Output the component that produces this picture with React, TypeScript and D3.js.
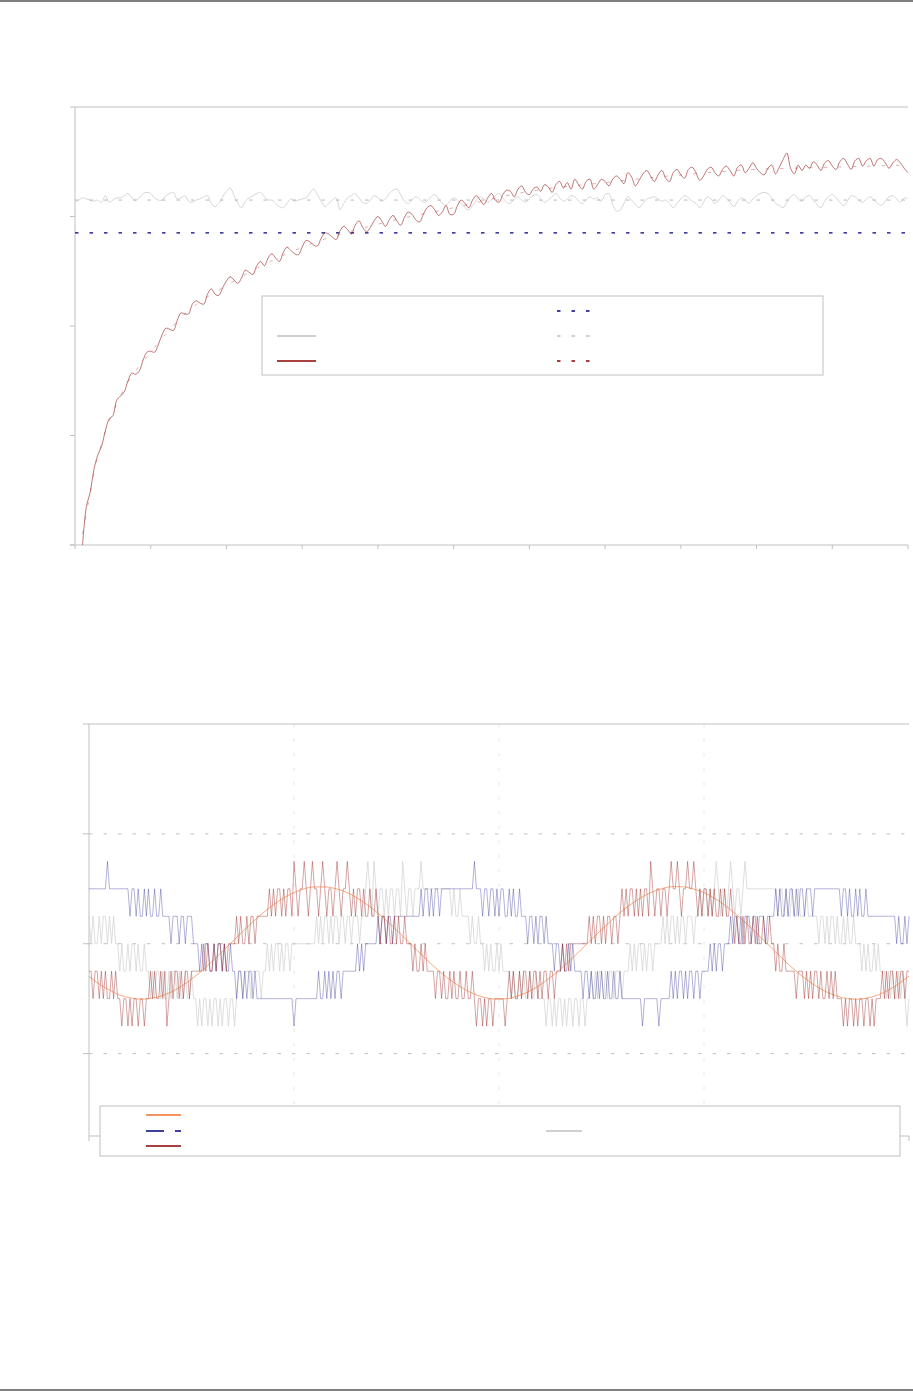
import React from 'react';
import * as d3 from 'd3';

// ---- upper chart: slow rise against a flat reference, sampled every 5 units
const RISE_START = 10;
const RISE_STEP = 5;
const riseValues = [
  0.00, 0.35, 0.48, 0.69, 0.82, 0.90, 1.04, 1.15, 1.18, 1.32,
  1.36, 1.40, 1.50, 1.57, 1.56, 1.59, 1.69, 1.76, 1.77, 1.76,
  1.83, 1.92, 1.98, 1.97, 1.96, 2.05, 2.12, 2.11, 2.11, 2.20,
  2.23, 2.21, 2.20, 2.29, 2.34, 2.29, 2.28, 2.35, 2.41, 2.45,
  2.42, 2.39, 2.44, 2.51, 2.49, 2.47, 2.55, 2.59, 2.55, 2.62,
  2.66, 2.62, 2.59, 2.67, 2.72, 2.69, 2.66, 2.65, 2.72, 2.78,
  2.77, 2.74, 2.73, 2.80, 2.85, 2.84, 2.81, 2.79, 2.87, 2.91,
  2.88, 2.84, 2.92, 2.96, 2.90, 2.86, 2.90, 2.96, 3.00, 2.96,
  2.91, 2.97, 3.01, 2.96, 2.92, 2.99, 3.04, 3.02, 2.97, 2.95,
  3.02, 3.08, 3.10, 3.06, 3.01, 3.04, 3.10, 3.02, 3.02, 3.10,
  3.15, 3.12, 3.08, 3.15, 3.19, 3.15, 3.11, 3.17, 3.21, 3.15,
  3.13, 3.20, 3.24, 3.23, 3.18, 3.25, 3.28, 3.22, 3.20, 3.25,
  3.27, 3.23, 3.29, 3.27, 3.22, 3.29, 3.32, 3.26, 3.31, 3.25,
  3.34, 3.29, 3.25, 3.32, 3.34, 3.25, 3.29, 3.34, 3.32, 3.28,
  3.34, 3.37, 3.34, 3.30, 3.40, 3.36, 3.28, 3.33, 3.39, 3.42,
  3.37, 3.32, 3.38, 3.42, 3.35, 3.32, 3.40, 3.43, 3.38, 3.35,
  3.43, 3.45, 3.40, 3.33, 3.37, 3.43, 3.45, 3.40, 3.37, 3.43,
  3.46, 3.42, 3.37, 3.45, 3.47, 3.40, 3.44, 3.49, 3.44, 3.40,
  3.38, 3.44, 3.47, 3.39, 3.45, 3.52, 3.58, 3.44, 3.39, 3.47,
  3.42, 3.47, 3.44, 3.50, 3.47, 3.42, 3.49, 3.51, 3.46, 3.43,
  3.50, 3.53, 3.48, 3.43, 3.51, 3.53, 3.46, 3.51, 3.53, 3.46,
  3.52, 3.53, 3.49, 3.44, 3.49, 3.52, 3.49, 3.44, 3.40,
];

const FLAT_START = 0;
const FLAT_STEP = 5;
const flatValues = [
  3.13, 3.15, 3.17, 3.16, 3.15, 3.14, 3.15, 3.13, 3.19, 3.13,
  3.15, 3.17, 3.17, 3.19, 3.21, 3.17, 3.15, 3.17, 3.21, 3.22,
  3.21, 3.17, 3.15, 3.15, 3.19, 3.21, 3.22, 3.16, 3.17, 3.19,
  3.14, 3.13, 3.15, 3.16, 3.18, 3.19, 3.12, 3.09, 3.12, 3.18,
  3.23, 3.26, 3.19, 3.12, 3.08, 3.14, 3.17, 3.19, 3.21, 3.22,
  3.18, 3.15, 3.15, 3.12, 3.09, 3.08, 3.12, 3.16, 3.14, 3.15,
  3.16, 3.17, 3.21, 3.25, 3.20, 3.14, 3.09, 3.12, 3.15, 3.17,
  3.06, 3.12, 3.17,
  3.19, 3.21, 3.17, 3.13, 3.12, 3.15, 3.19, 3.17, 3.14, 3.16,
  3.21, 3.24, 3.25, 3.20, 3.14, 3.12, 3.15, 3.18, 3.16, 3.13,
  3.14, 3.18, 3.20, 3.16, 3.12, 3.10, 3.14, 3.17, 3.15, 3.12,
  3.08, 3.06, 3.10, 3.15, 3.18, 3.16, 3.13, 3.15, 3.19, 3.21,
  3.17, 3.13, 3.12, 3.16, 3.18, 3.15, 3.13, 3.16,
  3.19, 3.20, 3.16, 3.13, 3.15, 3.18, 3.21, 3.17, 3.14, 3.16,
  3.19, 3.18, 3.14, 3.12, 3.15, 3.18, 3.16, 3.17, 3.14, 3.20,
  3.21, 3.11, 3.05, 3.06, 3.12, 3.18, 3.15, 3.11, 3.08, 3.12,
  3.16, 3.17, 3.18, 3.16, 3.14, 3.15, 3.12, 3.08, 3.12, 3.16,
  3.19, 3.17, 3.14, 3.12, 3.08, 3.13, 3.18, 3.16, 3.12, 3.15,
  3.19, 3.17, 3.13, 3.09, 3.14, 3.17, 3.15, 3.12, 3.16, 3.19,
  3.21, 3.22, 3.21, 3.17, 3.12, 3.10, 3.08, 3.13, 3.18, 3.20,
  3.16, 3.14, 3.18, 3.19, 3.15, 3.11, 3.08, 3.14, 3.18, 3.20,
  3.17, 3.13, 3.10, 3.14, 3.19, 3.18, 3.15, 3.13, 3.16, 3.18,
  3.15, 3.12, 3.10, 3.14, 3.18, 3.19, 3.16, 3.13, 3.17, 3.16,
];

const fitX = [10, 30, 60, 100, 150, 200, 300, 400, 500, 600, 700, 800, 900, 1000, 1100];
const fitValues = [0.1, 0.8, 1.36, 1.76, 2.14, 2.37, 2.72, 2.93, 3.08, 3.23, 3.31, 3.38, 3.43, 3.45, 3.47];
const flatMean = 3.15;
const refLevel = 2.85;

const topXTicks = d3.range(0, 1101, 100);
const topYTicks = [0, 1, 2, 3, 4];

// ---- lower chart: three quantised phases and the reference sine
const SAMPLE_STEP = 0.1;
const phaseRed = [
  -1, -1, -2, -1, -1, -2, -1, -2, -1, -2, -2, -1, -2, -1, -2,
  -2, -3, -2, -2, -3, -2, -3, -2, -2, -3, -2, -2, -3, -2,
  -2, -1, -2, -1, -2, -2, -1, -2, -1, -3, -2, -1, -2, -1, -1, -2, -1, -2, -1, -1, -2, -1, -1,
  -1, -1, -1, -1,
  0, -1, 0, -1, -1, 0, -1, 0, 0, -1, 0, -1,
  0, 0, 0, 0,
  1, 0, 1, 0, 0, 1, 0, 1, 1, 0, 1, 1,
  1, 1, 1, 1,
  2, 1, 2, 1, 2, 2, 1, 2, 1, 2, 2, 1,
  3, 2, 1, 2, 2, 3, 2, 1, 2, 3, 2, 2, 1, 2, 3, 2, 1, 2, 2, 1, 2, 3, 2, 1, 2, 2, 3, 2,
  1, 2, 1, 2, 2, 1, 2, 1, 1, 2, 1, 1, 2,
  1, 0, 1, 1, 0, 1, 0, 0, 1, 0, 1, 0, 0, 1, 0, 0,
  0, -1, 0, -1, -1, 0, -1, 0, -1, -1, -1,
  -1, -2, -1, -1, -2, -1, -2, -2, -1, -2, -1, -2, -2, -1, -2, -2, -1, -2, -2, -1,
  -2, -3, -2, -2, -3, -2, -3, -2, -2, -3,
  -2, -2, -2, -2, -2, -3,
  -2, -1, -2, -1, -2, -2, -1, -2, -1, -1, -2, -1, -2, -1, -1, -2, -1, -2, -1, -1, -2, -1, -1, -2, -1, -1, -1,
  0, -1, 0, -1, 0, 0,
  0, 0, 0, 0, 0, 0, 0, 1,
  0, 1, 0, 1, 1, 0, 1, 0, 1, 1, 0, 1, 1, 0, 1,
  2, 1, 2, 1, 2, 2, 1, 2, 1, 2, 1, 2, 2, 1,
  3, 2, 1, 2, 2, 1, 2, 2, 1, 2, 3, 2, 2, 3, 2, 1, 2, 2, 3, 2, 2, 3, 2,
  1, 2, 1, 2, 2, 1, 2, 1, 2, 1, 1, 2, 1, 2, 1, 1, 2,
  1, 0, 1, 0, 0, 1, 0, 1, 0, 0, 1, 0, 1, 0, 0, 1, 0, 0, 1, 0,
  0, -1, 0, -1, -1, 0, -1, -1,
  -1, -1, -1, -2, -1, -1, -1,
  -2, -1, -2, -1, -2, -1, -1, -2, -1, -2, -2, -1, -2, -1, -2, -1, -2, -2,
  -2, -3, -2, -3, -2, -2, -3, -2, -3, -2, -2, -3, -2, -2, -3, -2, -3, -2, -2,
  -2, -1, -2, -1, -2, -1, -1, -2, -1, -2, -1, -1, -2, -1, -1,
];

const phaseBlue = [
  2, 2, 2, 2, 2, 2, 2, 2, 2,
  3,
  2, 2, 2, 2, 2, 2, 2, 2, 2,
  2, 1, 2, 2, 1, 2, 1, 1, 2, 1, 2, 1, 1, 2, 1, 1, 2, 1,
  1, 1, 1, 0, 1, 1, 1, 0, 1, 1, 0, 1, 1, 1, 0,
  0, 0, -1, 0, -1, 0, 0, -1, -1, 0, -1, 0, 0, -1, 0, -1, -1, 0,
  -1, -1, -2, -1, -1, -2, -1, -2, -1, -1, -2, -1, -2, -2, -2,
  -2, -2, -2, -2, -2, -2, -2, -2, -2, -2, -2, -2, -2, -2, -2, -3, -2,
  -2, -2, -2, -2, -2, -2, -2, -2, -2,
  -2, -1, -2, -2, -1, -2, -1, -2, -1, -2, -1, -1, -2, -1, -1,
  -1, -1, -1, -1, -1, 0, -1, 0, -1, 0,
  0, 0, 0, 0, 0,
  1, 0, 1, 1, 0, 1, 1, 0, 1, 1, 1, 1, 1, 1, 1, 1, 1, 1, 1, 1,
  1, 2, 1, 2, 2, 1, 2, 1, 2, 2, 1, 2, 2, 2,
  2, 2, 2, 2, 2, 2, 2, 2, 2, 2, 2, 2, 2,
  3,
  2, 2, 2, 1, 2, 2, 1, 2, 2,
  1, 2, 1, 2, 2, 1, 1, 2, 1, 2, 1, 1, 2, 1, 1,
  1, 0, 1, 1, 0, 1, 0, 1, 1, 0, 1, 0, 0,
  0, -1, 0, 0, -1, 0, -1, -1, 0, -1, 0, -1, -1, -1,
  -1, -2, -1, -1, -2, -1, -2, -2, -1, -2, -1, -2, -2, -1, -2, -2, -1, -2, -2, -1, -2, -2, -2,
  -2, -2, -2, -2, -2, -2, -2, -3, -2, -2, -2, -2, -2, -2, -2, -3, -2, -2, -2,
  -2, -2, -1, -2, -1, -2, -1, -1, -2, -1, -2, -1, -1, -2, -1, -1, -2, -1, -1,
  -1, -1, 0, -1, 0, -1, 0, 0, -1, 0, 0, 0,
  1, 0, 1, 1, 0, 1, 0, 1, 1, 1, 0, 1, 1, 0, 1, 1, 1, 0, 1, 1, 1, 1,
  2, 1, 2, 1, 1, 2, 1, 2, 2, 1, 2, 1, 2, 2, 1, 2, 2, 2, 1,
  2, 2, 2, 2, 2, 2, 2, 2, 2, 2, 2, 2, 2, 1, 2, 2, 1, 2, 1, 1, 2, 1, 2, 1, 1, 2, 1, 1, 1, 1, 1, 1,
  1, 1, 1, 1, 1, 1, 1,
  1, 0, 1, 0, 0, 1, 0, 1,
];

const phaseGray = [
  1, 0, 1, 0, 0, 1, 0, 1, 1, 0, 1, 0, 1, 0,
  0, -1, 0, -1, -1, 0, -1, 0, 0, -1, 0, -1, -1, 0, -1,
  -1, -2, -1, -2, -1, -1, -2, -1, -2, -2, -1, -2, -1, -1, -2, -1, -2, -2, -1, -2, -2, -1, -2,
  -2, -3, -2, -3, -2, -2, -3, -2, -3, -2, -2, -3, -2, -3, -2, -2, -3, -2, -2, -3, -2,
  -1, -1, -2, -1, -1, -1, -2, -1, -1, -1, -1, -2, -1, -1,
  0, -1, 0, -1, 0, 0, -1, 0, -1, 0, 0, -1, 0,
  0, 0, 0, 0, 0, 0, 0, 0, 0, 0, 0,
  1, 0, 1, 0, 1, 1, 0, 1, 0, 1, 1, 0, 1, 1, 0, 1, 1, 0, 1, 1, 1, 0, 1, 1,
  2, 3, 2, 1, 3, 2, 1, 2, 2, 1, 2, 1, 2, 2, 1, 2, 2, 1, 3, 2, 1, 2, 2, 1, 2, 2, 2, 3,
  2, 2, 2, 2, 2, 2, 2, 2, 2, 2, 2, 2, 2, 2,
  1, 2, 1, 1, 2, 1, 1, 1,
  1, 0, 1, 0, 0, 1, 0, 0,
  -1, 0, -1, 0, -1, -1, 0, -1, 0, -1, -1, -1,
  -1, -2, -1, -2, -2, -1, -2, -1, -2, -2, -1, -2, -2, -1, -2, -2, -2,
  -2, -3, -2, -2, -3, -2, -3, -2, -2, -3, -2, -3, -2, -2, -3, -2, -2, -3, -2, -2, -3, -2, -2,
  -1, -2, -1, -2, -1, -1, -2, -1, -2, -1, -1, -2, -1, -1, -1, -2, -1, -1, -1,
  0, -1, 0, -1, 0, 0, -1, 0, -1, 0, 0, -1, 0, 0, 0, 0,
  1, 0, 1, 0, 1, 1, 0, 1, 0, 1, 1, 0, 1, 1, 1, 0, 1,
  1, 2, 1, 2, 2, 1, 2, 1, 2, 3, 2, 1, 2, 2, 1, 2, 3, 2, 1, 2, 2, 1, 2, 3, 2, 2,
  2, 2, 2, 2, 2, 2, 2, 2, 2, 2, 2, 2,
  2, 1, 2, 2, 1, 2, 1, 1, 2, 1, 1, 2, 1, 1, 1, 2, 1, 1, 1, 1,
  1, 0, 1, 1, 0, 1, 0, 1, 1, 0, 1, 0, 0, 1, 0, 1, 0, 0, 1, 0, 0,
  0, -1, 0, -1, 0, -1, -1, 0, -1, 0, -1, -1,
  -1, -2, -1, -2, -1, -2, -2, -1, -2, -1, -2, -3, -2,
];

const REF_STEP = 0.5;
const reference = [
  -1.19, -1.47, -1.69, -1.87, -1.97, -2.02, -1.99, -1.91, -1.76, -1.55,
  -1.29, -0.99, -0.65, -0.29, 0.08, 0.45, 0.80, 1.13, 1.42, 1.67,
  1.86, 2.00, 2.07, 2.07, 2.01, 1.89, 1.70, 1.46, 1.17, 0.85,
  0.50, 0.13, -0.24, -0.60, -0.94, -1.25, -1.51, -1.73, -1.89, -1.99,
  -2.02, -1.99, -1.88, -1.72, -1.50, -1.23, -0.92, -0.58, -0.22, 0.15,
  0.51, 0.86, 1.19, 1.47, 1.71, 1.89, 2.02, 2.08, 2.07, 1.99,
  1.86, 1.66, 1.41, 1.11, 0.78, 0.43, 0.06, -0.30, -0.67, -1.00,
  -1.30, -1.56, -1.76, -1.91, -2.00, -2.02, -1.97, -1.86, -1.69, -1.46,
  -1.18,
];

const lowXTicks = [0, 10, 20, 30, 40];
const lowGrid = [-4, 0, 4];
const lowYTicks = [-4, 0, 4, 8];

const AXIS = '#c0c0c0';
const DASH = '3.5 11';

const App: React.FC = () => {
  // upper chart scales
  const x1 = d3.scaleLinear().domain([0, 1100]).range([75, 908]);
  const y1 = d3.scaleLinear().domain([0, 4]).range([545, 107]);
  const smooth = d3.line<[number, number]>()
    .x(d => x1(d[0]))
    .y(d => y1(d[1]))
    .curve(d3.curveCatmullRom.alpha(0.5));
  const risePts: [number, number][] = riseValues.map((v, i) => [RISE_START + i * RISE_STEP, v]);
  const flatPts: [number, number][] = flatValues.map((v, i) => [FLAT_START + i * FLAT_STEP, v]);
  const fitPts: [number, number][] = fitValues.map((v, i) => [fitX[i], v]);
  const fitLine = d3.line<[number, number]>()
    .x(d => x1(d[0]))
    .y(d => y1(d[1]))
    .curve(d3.curveMonotoneX);

  // lower chart scales
  const x2 = d3.scaleLinear().domain([0, 40]).range([89, 909]);
  const y2 = d3.scaleLinear().domain([-7, 8]).range([1136, 724]);
  const stepLine = d3.line<number>()
    .x((d, i) => x2(i * SAMPLE_STEP))
    .y(d => y2(d));
  const refLine = d3.line<number>()
    .x((d, i) => x2(i * REF_STEP))
    .y(d => y2(d))
    .curve(d3.curveMonotoneX);

  return (
    <div style={{ position: 'absolute', left: 0, top: 0, background: '#fff' }}>
      <svg width={913} height={1391} style={{ display: 'block' }}>
        <rect x={0} y={0} width={913} height={1391} fill="#fff" />
        {/* page rules */}
        <line x1={0} x2={913} y1={1} y2={1} stroke="#7f7f7f" strokeWidth={2} />
        <line x1={0} x2={913} y1={1390} y2={1390} stroke="#7f7f7f" strokeWidth={2} />

        {/* ---------- upper chart ---------- */}
        <g>
          <line x1={x1(0)} x2={x1(1100)} y1={y1(4)} y2={y1(4)} stroke={AXIS} strokeWidth={1} />
          <line x1={x1(0)} x2={x1(0)} y1={y1(0)} y2={y1(4)} stroke={AXIS} strokeWidth={1} />
          <line x1={x1(0) - 5} x2={x1(1100)} y1={y1(0)} y2={y1(0)} stroke={AXIS} strokeWidth={1} />
          {topYTicks.map(t => (
            <line key={'yt' + t} x1={x1(0) - 5} x2={x1(0)} y1={y1(t)} y2={y1(t)} stroke={AXIS} />
          ))}
          {topXTicks.map(t => (
            <line key={'xt' + t} x1={x1(t)} x2={x1(t)} y1={y1(0)} y2={y1(0) + 4} stroke={AXIS} />
          ))}

          <path d={smooth(flatPts) || ''} fill="none" stroke="#cccccc" strokeWidth={0.8} />
          <line x1={x1(0)} x2={x1(1100)} y1={y1(flatMean)} y2={y1(flatMean)}
            stroke="#b8b8b8" strokeWidth={1} strokeDasharray={DASH} />
          <line x1={x1(0)} x2={x1(1100)} y1={y1(refLevel)} y2={y1(refLevel)}
            stroke="#000080" strokeWidth={1.3} strokeDasharray={DASH} />
          <path d={smooth(risePts) || ''} fill="none" stroke="#8b0000" strokeOpacity={0.6} strokeWidth={0.9} />
          <path d={fitLine(fitPts) || ''} fill="none" stroke="#8b0000" strokeOpacity={0.3}
            strokeWidth={1} strokeDasharray={DASH} />

          {/* legend */}
          <rect x={262} y={296} width={561} height={79} fill="#fff" stroke={AXIS} strokeWidth={1} />
          <line x1={557} x2={592} y1={311} y2={311} stroke="#000080" strokeWidth={1.5} strokeDasharray={DASH} />
          <line x1={277} x2={316} y1={336} y2={336} stroke="#c0c0c0" strokeWidth={1.5} />
          <line x1={557} x2={592} y1={336} y2={336} stroke="#c0c0c0" strokeWidth={1.5} strokeDasharray={DASH} />
          <line x1={277} x2={316} y1={361} y2={361} stroke="#8b0000" strokeWidth={1.5} />
          <line x1={557} x2={592} y1={361} y2={361} stroke="#8b0000" strokeWidth={1.5} strokeDasharray={DASH} />
        </g>

        {/* ---------- lower chart ---------- */}
        <g>
          {lowXTicks.slice(1, -1).map(t => (
            <line key={'vg' + t} x1={x2(t)} x2={x2(t)} y1={y2(8)} y2={y2(-7)}
              stroke="#e6e6e6" strokeWidth={1} strokeDasharray={DASH} />
          ))}
          {lowGrid.map(t => (
            <line key={'hg' + t} x1={x2(0)} x2={x2(40)} y1={y2(t)} y2={y2(t)}
              stroke={AXIS} strokeWidth={1} strokeDasharray={DASH} />
          ))}
          <line x1={x2(0)} x2={x2(40)} y1={y2(8)} y2={y2(8)} stroke={AXIS} strokeWidth={1} />
          <line x1={x2(0)} x2={x2(0)} y1={y2(-7)} y2={y2(8)} stroke={AXIS} strokeWidth={1} />
          <line x1={x2(0)} x2={x2(40)} y1={y2(-7)} y2={y2(-7)} stroke={AXIS} strokeWidth={1} />
          {lowYTicks.map(t => (
            <line key={'lyt' + t} x1={x2(0) - 6} x2={x2(0)} y1={y2(t)} y2={y2(t)} stroke={AXIS} />
          ))}
          {lowXTicks.map(t => (
            <line key={'lxt' + t} x1={x2(t)} x2={x2(t)} y1={y2(-7)} y2={y2(-7) + 5} stroke={AXIS} />
          ))}

          <path d={stepLine(phaseGray) || ''} fill="none" stroke="#d6d6d6" strokeWidth={0.8} />
          <path d={stepLine(phaseBlue) || ''} fill="none" stroke="#000080" strokeOpacity={0.38} strokeWidth={0.8} />
          <path d={stepLine(phaseRed) || ''} fill="none" stroke="#8b0000" strokeOpacity={0.45} strokeWidth={0.8} />
          <path d={refLine(reference) || ''} fill="none" stroke="#f07028" strokeOpacity={0.6} strokeWidth={1} />

          {/* legend */}
          <rect x={100} y={1106} width={800} height={50} fill="#fff" stroke={AXIS} strokeWidth={1} />
          <line x1={146} x2={181} y1={1115} y2={1115} stroke="#f07028" strokeWidth={1.5} />
          <line x1={146} x2={181} y1={1131} y2={1131} stroke="#000080" strokeWidth={1.5} strokeDasharray="18 11" />
          <line x1={546} x2={582} y1={1131} y2={1131} stroke="#c0c0c0" strokeWidth={1.5} />
          <line x1={146} x2={181} y1={1146} y2={1146} stroke="#8b0000" strokeWidth={1.5} />
        </g>
      </svg>
    </div>
  );
};

export default App;
